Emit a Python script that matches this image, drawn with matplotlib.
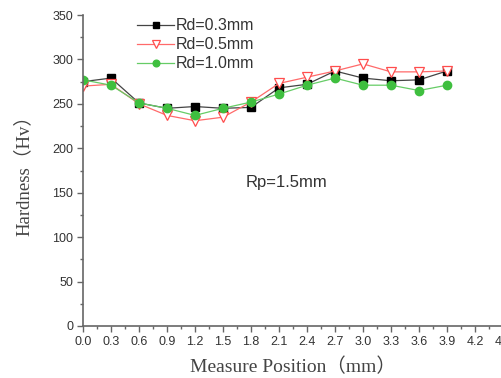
import numpy as np
import matplotlib
matplotlib.use("Agg")
import matplotlib.pyplot as plt
from matplotlib.ticker import MultipleLocator

# measure positions (mm) and hardness (Hv)
pos = [0.0, 0.3, 0.6, 0.9, 1.2, 1.5, 1.8, 2.1, 2.4, 2.7, 3.0, 3.3, 3.6, 3.9]
hv_03 = [275, 279, 251, 245, 247, 245, 246, 268, 272, 287, 279, 276, 277, 287]
hv_05 = [270, 272, 250, 237, 231, 235, 252, 273, 280, 287, 295, 286, 286, 287]
hv_10 = [277, 271, 251, 245, 237, 245, 252, 261, 271, 279, 271, 271, 265, 271]

xticks = np.arange(0, 4.51, 0.3)
xticklabels = ["%.1f" % v for v in xticks]

plt.rcParams['font.family'] = ['Liberation Sans', 'DejaVu Sans']

fig = plt.figure(figsize=(5.01, 3.78), dpi=100)
ax = fig.add_axes([83/501, 52/378, 420/501, 311/378])

ax.plot(pos, hv_03, '-', color='#444444', lw=0.9, marker='s', ms=5.5,
        mfc='black', mec='black', label='Rd=0.3mm')
ax.plot(pos, hv_05, '-', color='#ff6a6a', lw=0.9, marker='v', ms=7.5,
        mfc='white', mec='#ff4d4d', mew=0.9, label='Rd=0.5mm')
ax.plot(pos, hv_10, '-', color='#66cc66', lw=0.9, marker='o', ms=6,
        mfc='#3fbf3f', mec='#3fbf3f', label='Rd=1.0mm')

ax.set_xlim(0, 4.5)
ax.set_ylim(0, 350)
ax.set_xticks(xticks)
ax.set_xticklabels(xticklabels)
ax.yaxis.set_major_locator(MultipleLocator(50))
ax.xaxis.set_minor_locator(MultipleLocator(0.15))
ax.yaxis.set_minor_locator(MultipleLocator(25))

for s in ['top', 'right']:
    ax.spines[s].set_visible(False)
for s in ['left', 'bottom']:
    ax.spines[s].set_color('#666666')
    ax.spines[s].set_linewidth(1.2)
ax.tick_params(which='major', direction='out', length=4, width=1, color='#666666',
               labelsize=9, labelcolor='#333333', pad=3)
ax.tick_params(which='minor', direction='out', length=2.5, width=1, color='#666666')

ax.set_xlabel('Measure Position（mm）', family=['Liberation Serif', 'Noto Sans CJK SC'],
              fontsize=14, color='#444444', labelpad=7)
ax.set_ylabel('Hardness（Hv）', family=['Liberation Serif', 'Noto Sans CJK SC'],
              fontsize=13.5, color='#444444', labelpad=14)

ax.text(1.74, 161, 'Rp=1.5mm', fontsize=12, color='#333333', va='center')

leg = ax.legend(loc='upper left', bbox_to_anchor=(0.095, 1.035), frameon=False,
                fontsize=11.5, handlelength=2.3, handletextpad=0.1,
                labelspacing=0.25, markerscale=0.8, labelcolor='#333333')

fig.savefig('out.png', dpi=100, facecolor='w')
